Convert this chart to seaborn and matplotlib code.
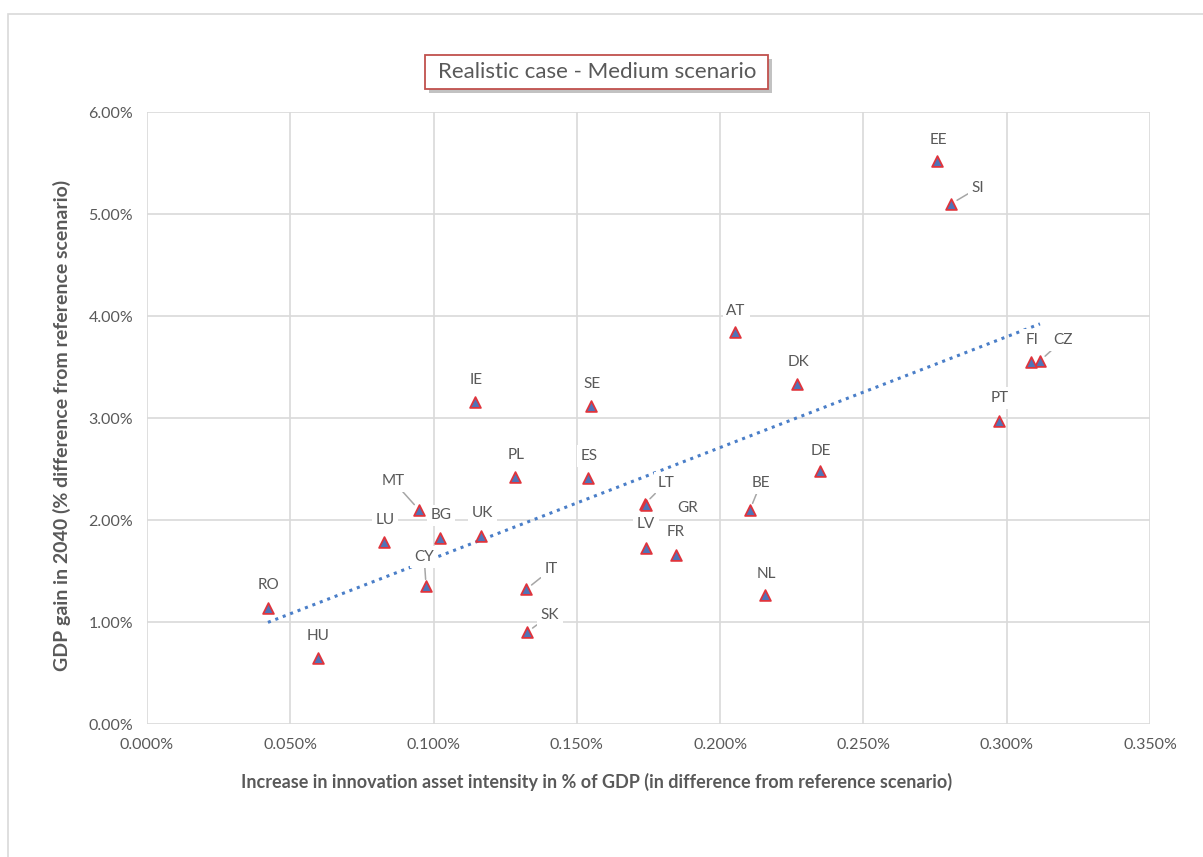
import matplotlib.pyplot as plt
import seaborn as sns
import numpy as np
import pandas as pd
from matplotlib.patches import Rectangle

# -----------------------------
# Data
# -----------------------------
countries = ["EE", "SI", "AT", "DK", "CZ", "FI", "PT", "DE", "BE", "NL",
             "IE", "SE", "PL", "ES", "LT", "GR", "LV", "FR", "MT", "LU",
             "BG", "UK", "CY", "IT", "SK", "RO", "HU"]
innovation = [0.2757, 0.2806, 0.2052, 0.2268, 0.3116, 0.3085, 0.2973, 0.2348, 0.2104, 0.2157,
              0.1145, 0.1549, 0.1284, 0.1539, 0.1738, 0.1740, 0.1741, 0.1846, 0.0949, 0.0827,
              0.1022, 0.1166, 0.0974, 0.1323, 0.1326, 0.0422, 0.0597]
gdp_gain = [5.52, 5.10, 3.84, 3.33, 3.56, 3.55, 2.97, 2.48, 2.10, 1.26,
            3.16, 3.12, 2.42, 2.41, 2.16, 2.15, 1.73, 1.66, 2.10, 1.78,
            1.82, 1.84, 1.35, 1.32, 0.90, 1.14, 0.65]

df = pd.DataFrame({"country": countries, "x": innovation, "y": gdp_gain})

# label offsets in pixels (dx, dy up) and whether a leader line is drawn
label_offsets = {
    "EE": (1, 21, False), "SI": (27, 16, True), "AT": (1, 21, False), "DK": (2, 22, False),
    "CZ": (23, 21, True), "FI": (1, 22, False), "PT": (1, 23, False), "DE": (1, 20, False),
    "BE": (11, 27, True), "NL": (1, 21, False), "IE": (1, 22, False), "SE": (1, 22, False),
    "PL": (1, 22, False), "ES": (1, 22, False), "LT": (21, 21, True), "GR": (42, -3, False),
    "LV": (0, 24, False), "FR": (0, 23, False), "MT": (-26, 29, True), "LU": (1, 22, False),
    "BG": (1, 23, False), "UK": (1, 23, False), "CY": (-2, 29, True), "IT": (25, 20, True),
    "SK": (23, 17, True), "RO": (1, 23, False), "HU": (0, 22, False),
}

text_col = "#595959"
grid_col = "#D9D9D9"

# -----------------------------
# Plot
# -----------------------------
sns.set_style("white")
plt.rcParams["font.family"] = ["Lato", "DejaVu Sans"]

W, H = 1203, 857
fig = plt.figure(figsize=(W / 100, H / 100), dpi=100)
ax = fig.add_axes([147 / W, 1 - 724 / H, 1003 / W, 612 / H])

# outer chart border
fig.patches.append(Rectangle((8 / W, -0.1), 1.2, 1 - 14 / H + 0.1,
                             transform=fig.transFigure, fill=False,
                             edgecolor="#D9D9D9", linewidth=1.2))

sns.scatterplot(data=df, x="x", y="y", marker="^", s=60,
                color="#4F74B8", edgecolor="#E0343C", linewidth=1.3,
                ax=ax, zorder=4, legend=False)

# linear trend line
slope, intercept = np.polyfit(df["x"], df["y"], 1)
xs = np.array([df["x"].min(), df["x"].max()])
ax.plot(xs, slope * xs + intercept, linestyle=(0, (1, 1.6)),
        color="#4A7EC8", linewidth=2.2, zorder=3)

for c, x, y in zip(countries, innovation, gdp_gain):
    dx, dy, leader = label_offsets[c]
    ax.annotate(c, (x, y), xytext=(dx, dy), textcoords="offset pixels",
                ha="center", va="center", fontsize=11, color=text_col,
                bbox=dict(boxstyle="square,pad=0.25", fc="white", ec="none"),
                arrowprops=dict(arrowstyle="-", color="#A6A6A6", lw=1.1,
                                shrinkA=0, shrinkB=5) if leader else None,
                zorder=5)

ax.set_xlim(0, 0.35)
ax.set_ylim(0, 6)
ax.set_xticks(np.arange(0, 0.351, 0.05))
ax.set_yticks(np.arange(0, 6.01, 1))
ax.set_xticklabels([f"{v:.3f}%" for v in np.arange(0, 0.351, 0.05)])
ax.set_yticklabels([f"{v:.2f}%" for v in np.arange(0, 6.01, 1)])
ax.tick_params(axis="both", length=0, labelsize=11.5, colors=text_col, pad=10)
ax.grid(True, color=grid_col, linewidth=1.2)
ax.set_axisbelow(True)
ax.set_xlabel("")
ax.set_ylabel("")
for s in ax.spines.values():
    s.set_visible(False)

# axis titles placed where the reference has them
fig.text(597 / W, 1 - 782 / H,
         "Increase in innovation asset intensity in % of GDP (in difference from reference scenario)",
         ha="center", va="center", fontsize=13, fontweight="bold", color=text_col)
fig.text(62 / W, 1 - 425 / H,
         "GDP gain in 2040 (% difference from reference scenario)",
         ha="center", va="center", rotation=90, fontsize=14, fontweight="bold", color=text_col)

# title box with a soft drop shadow
fig.patches.append(Rectangle((429 / W, 1 - 93 / H), 343 / W, 34 / H,
                             transform=fig.transFigure, facecolor="#9A9A9A",
                             edgecolor="none", alpha=0.6))
fig.patches.append(Rectangle((425 / W, 1 - 89 / H), 343 / W, 34 / H,
                             transform=fig.transFigure, facecolor="white",
                             edgecolor="#C0504D", linewidth=1.3))
fig.text(597 / W, 1 - 72 / H, "Realistic case - Medium scenario",
         ha="center", va="center", fontsize=16, color=text_col)

plt.savefig("out.png", dpi=100)
